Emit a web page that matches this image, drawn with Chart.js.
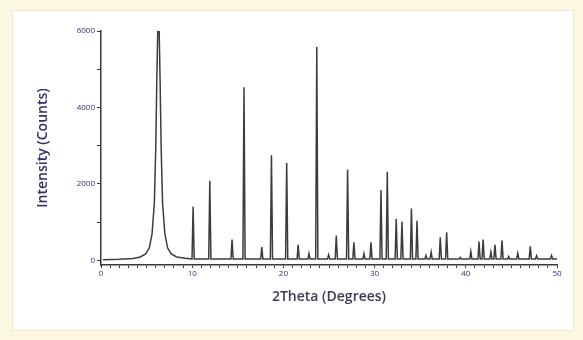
<!DOCTYPE html>
<html>
<head>
<meta charset="utf-8">
<script src="https://cdn.jsdelivr.net/npm/chart.js@4/dist/chart.umd.min.js"></script>
<style>
  html, body { margin:0; padding:0; }
  body { width:583px; height:340px; background:#fcf7e0; position:relative; overflow:hidden; }
  .panel { position:absolute; left:12px; top:10px; width:560px; height:319px; background:#fff; border:1px solid #f1e9c6; }
  #wrap { position:absolute; left:0; top:0; width:583px; height:340px; }
</style>
</head>
<body>
<div class="panel"></div>
<div id="wrap"><canvas id="xrd"></canvas></div>
<script>
// broad first reflection, read point by point
const mainPeakX = [0.2, 2.0, 3.5, 4.3, 4.9, 5.3, 5.6, 5.85, 6.0, 6.12, 6.22, 6.38, 6.48, 6.6, 6.75, 7.0, 7.3, 7.7, 8.3, 9.2, 9.8];
const mainPeakY = [20, 30, 50, 90, 170, 330, 700, 1500, 2900, 4700, 6000, 6000, 4700, 2900, 1500, 700, 330, 170, 90, 55, 45];

// sharp reflections: 2theta position and peak height (counts)
const peakPos = [10.1, 11.93, 14.37, 15.68, 17.63, 18.69, 20.36, 21.62, 22.8, 23.66,
                 24.96, 25.8, 27.04, 27.73, 28.83, 29.6, 30.7, 31.39, 32.37, 33.0,
                 34.04, 34.65, 35.63, 36.2, 37.2, 37.9, 39.4, 40.55, 41.45, 41.9,
                 42.75, 43.2, 43.97, 44.7, 45.7, 47.07, 47.76, 49.4];
const peakHeight = [1400, 2080, 545, 4530, 350, 2750, 2550, 410, 175, 5580,
                    150, 650, 2380, 475, 175, 475, 1840, 2320, 1080, 1010,
                    1360, 1040, 130, 215, 605, 735, 80, 235, 495, 545,
                    215, 410, 520, 100, 190, 370, 120, 130];
const baseLevel = 40;
const endX = 50;

const yTickValues = [0, 1000, 2000, 3000, 4000, 5000, 6000];
const yTickLabels = [0, 2000, 4000, 6000];
const xTickLabels = [0, 10, 20, 30, 40, 50];

// build the trace: main peak then a narrow spike per reflection
const trace = mainPeakX.map((x, i) => ({ x, y: mainPeakY[i] }));
const hw = 0.12;
peakPos.forEach((p, i) => {
  trace.push({ x: p - hw, y: baseLevel });
  trace.push({ x: p, y: peakHeight[i] });
  trace.push({ x: p + hw, y: baseLevel });
});
trace.push({ x: endX, y: baseLevel });

const navy = '#2d3170';
const axisCol = '#3a3a3a';

new Chart(document.getElementById('xrd').getContext('2d'), {
  type: 'line',
  data: {
    datasets: [{
      data: trace,
      borderColor: '#3c3c3c',
      borderWidth: 1.5,
      pointRadius: 0,
      tension: 0,
      fill: false
    }]
  },
  options: {
    responsive: true,
    maintainAspectRatio: false,
    animation: false,
    layout: { padding: { left: 31, top: 31, right: 26, bottom: 31 } },
    plugins: { legend: { display: false }, tooltip: { enabled: false } },
    scales: {
      x: {
        type: 'linear',
        min: 0, max: 50,
        afterFit: s => { s.height = 44; },
        ticks: {
          stepSize: 1, autoSkip: false, maxRotation: 0, padding: 1,
          color: navy, font: { family: 'Open Sans', size: 8 },
          callback: v => xTickLabels.includes(v) ? v : ''
        },
        grid: { drawOnChartArea: false, tickLength: 3, color: axisCol },
        border: { display: true, color: axisCol, width: 1.5 },
        title: {
          display: true, text: '2Theta (Degrees)', color: '#3b3b58',
          font: { family: 'Open Sans', size: 14, weight: '600' }
        }
      },
      y: {
        min: -120, max: 6000,
        afterFit: s => { s.width = 70; },
        afterBuildTicks: s => { s.ticks = yTickValues.map(v => ({ value: v })); },
        ticks: {
          padding: 2, autoSkip: false,
          color: navy, font: { family: 'Open Sans', size: 8 },
          callback: v => yTickLabels.includes(v) ? String(v) : ''
        },
        grid: { drawOnChartArea: false, tickLength: 4, color: axisCol },
        border: { display: true, color: axisCol, width: 1.5 },
        title: {
          display: true, text: 'Intensity (Counts)', color: navy,
          font: { family: 'Open Sans', size: 14, weight: '600' }
        }
      }
    }
  }
});
</script>
</body>
</html>
